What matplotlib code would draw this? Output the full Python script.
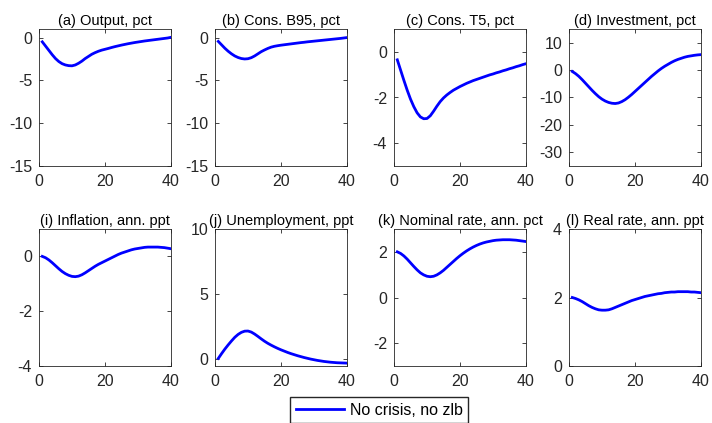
import matplotlib
matplotlib.use("Agg")
import matplotlib.pyplot as plt

plt.rcParams['font.family'] = ['Liberation Sans', 'DejaVu Sans']
plt.rcParams['axes.unicode_minus'] = False

# horizon, quarters 1..40
t = list(range(1, 41))

output = [-0.5, -1.0, -1.5, -2.0, -2.45, -2.8, -3.05, -3.2, -3.28, -3.3,
          -3.2, -3.0, -2.75, -2.45, -2.2, -1.95, -1.76, -1.6, -1.47, -1.37,
          -1.27, -1.16, -1.06, -0.97, -0.88, -0.80, -0.72, -0.65, -0.58, -0.52,
          -0.46, -0.40, -0.35, -0.30, -0.25, -0.20, -0.15, -0.10, -0.05, 0.03]
cons_b95 = [-0.45, -0.85, -1.25, -1.6, -1.9, -2.15, -2.33, -2.45, -2.5, -2.47,
            -2.35, -2.15, -1.9, -1.65, -1.45, -1.27, -1.12, -1.02, -0.95, -0.89,
            -0.84, -0.79, -0.74, -0.69, -0.64, -0.59, -0.55, -0.50, -0.46, -0.42,
            -0.38, -0.34, -0.30, -0.26, -0.22, -0.18, -0.14, -0.10, -0.05, 0.0]
cons_t5 = [-0.35, -0.8, -1.25, -1.68, -2.07, -2.4, -2.67, -2.85, -2.93, -2.92,
           -2.8, -2.6, -2.38, -2.18, -2.02, -1.89, -1.78, -1.68, -1.6, -1.52,
           -1.45, -1.38, -1.32, -1.26, -1.21, -1.16, -1.11, -1.06, -1.01, -0.97,
           -0.92, -0.88, -0.83, -0.79, -0.74, -0.70, -0.65, -0.61, -0.56, -0.52]
investment = [-0.5, -1.3, -2.3, -3.5, -4.8, -6.1, -7.4, -8.6, -9.7, -10.6,
              -11.3, -11.8, -12.1, -12.2, -12.0, -11.5, -10.8, -9.9, -8.9, -7.8,
              -6.7, -5.6, -4.5, -3.4, -2.3, -1.3, -0.3, 0.6, 1.4, 2.1,
              2.8, 3.4, 3.9, 4.3, 4.7, 5.0, 5.2, 5.4, 5.55, 5.65]
inflation = [0.0, -0.05, -0.13, -0.23, -0.34, -0.45, -0.55, -0.63, -0.69, -0.73,
             -0.74, -0.72, -0.67, -0.6, -0.52, -0.44, -0.36, -0.29, -0.23, -0.17,
             -0.11, -0.05, 0.01, 0.07, 0.12, 0.16, 0.20, 0.24, 0.27, 0.29,
             0.31, 0.33, 0.34, 0.34, 0.34, 0.34, 0.33, 0.32, 0.30, 0.28]
unemployment = [0.08, 0.45, 0.8, 1.12, 1.42, 1.7, 1.92, 2.08, 2.17, 2.18,
                2.1, 1.95, 1.77, 1.58, 1.4, 1.24, 1.1, 0.97, 0.85, 0.74,
                0.64, 0.54, 0.45, 0.37, 0.29, 0.22, 0.15, 0.09, 0.03, -0.02,
                -0.07, -0.11, -0.15, -0.18, -0.21, -0.23, -0.25, -0.26, -0.27, -0.28]
nominal_rate = [2.0, 1.93, 1.82, 1.68, 1.52, 1.36, 1.21, 1.08, 0.99, 0.93,
                0.91, 0.93, 0.99, 1.08, 1.19, 1.32, 1.45, 1.58, 1.71, 1.83,
                1.94, 2.04, 2.13, 2.21, 2.28, 2.34, 2.39, 2.43, 2.46, 2.49,
                2.51, 2.52, 2.53, 2.53, 2.53, 2.52, 2.51, 2.49, 2.47, 2.45]
real_rate = [2.0, 1.97, 1.93, 1.88, 1.82, 1.76, 1.71, 1.67, 1.64, 1.63,
             1.63, 1.64, 1.67, 1.71, 1.75, 1.79, 1.83, 1.87, 1.91, 1.94,
             1.97, 2.0, 2.03, 2.05, 2.07, 2.09, 2.11, 2.12, 2.14, 2.15,
             2.16, 2.16, 2.17, 2.17, 2.17, 2.17, 2.16, 2.16, 2.15, 2.14]

titles = ['(a) Output, pct', '(b) Cons. B95, pct', '(c) Cons. T5, pct',
          '(d) Investment, pct', '(i) Inflation, ann. ppt',
          '(j) Unemployment, ppt', '(k) Nominal rate, ann. pct',
          '(l) Real rate, ann. ppt']
series = [output, cons_b95, cons_t5, investment,
          inflation, unemployment, nominal_rate, real_rate]
ylims = [(-15, 1), (-15, 1), (-5, 1), (-35, 15),
         (-4, 1), (-0.5, 10), (-3, 3), (0, 4)]
yticks = [[-15, -10, -5, 0], [-15, -10, -5, 0], [-4, -2, 0],
          [-30, -20, -10, 0, 10], [-4, -2, 0], [0, 5, 10],
          [-2, 0, 2], [0, 2, 4]]

W, H = 712, 423
fig = plt.figure(figsize=(W / 100, H / 100), dpi=100)

lefts = [39, 215, 394, 569]
tops = [29, 229]
aw, ah = 132, 137

line = None
for k in range(8):
    r, c = divmod(k, 4)
    ax = fig.add_axes([lefts[c] / W, 1 - (tops[r] + ah) / H, aw / W, ah / H])
    line, = ax.plot(t, series[k], color='blue', lw=2)
    ax.set_xlim(0, 40)
    ax.set_xticks([0, 20, 40])
    ax.set_ylim(*ylims[k])
    ax.set_yticks(yticks[k])
    ax.set_title(titles[k], fontsize=10.5, color='black', pad=3)
    ax.tick_params(direction='in', length=3, width=0.6, labelsize=11.5,
                   colors='#262626', top=True, right=True, pad=5)
    ax.tick_params(axis='x', pad=6)
    for s in ax.spines.values():
        s.set_color('#262626')
        s.set_linewidth(0.6)

fig.legend([line], ['No crisis, no zlb'], loc='upper left',
           bbox_to_anchor=(290 / W, 1 - 397 / H), fontsize=11.5,
           frameon=True, fancybox=False, edgecolor='#262626',
           framealpha=1, handlelength=3.0, borderpad=0.35,
           handletextpad=0.4, borderaxespad=0)

fig.savefig('out.png', dpi=100)
